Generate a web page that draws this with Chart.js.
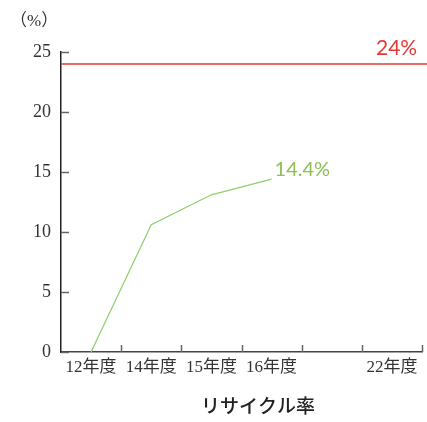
<!doctype html>
<html lang="ja">
<head>
<meta charset="UTF-8" />
<title>リサイクル率</title>
<script src="https://cdn.jsdelivr.net/npm/chart.js"></script>
<style>
    html, body { margin: 0; padding: 0; background: #fff; }
    #wrap { position: relative; width: 427px; height: 422px; }
</style>
</head>
<body>
<div id="wrap"><canvas id="myChart"></canvas></div>
<script>
// 年度ごとのリサイクル率 (%)
const years = ['12年度', '14年度', '15年度', '16年度', '', '22年度'];
const rates = [0, 10.6, 13.1, 14.4, null, null];
const goal = 24;            // 22年度の目標値
const yTicks = [0, 5, 10, 15, 20, 25];

const serif = '"Liberation Serif", "DejaVu Serif", "Noto Sans CJK JP", serif';
const thin = 'Lato, "DejaVu Sans", sans-serif';

// 目標線・数値ラベル・内向きの目盛り・軸タイトル
const overlay = {
    id: 'overlay',
    afterDraw(chart) {
        const c = chart.ctx;
        const area = chart.chartArea;
        const x = chart.scales.x;
        const y = chart.scales.y;
        c.save();

        // 目標線
        const gy = y.getPixelForValue(goal);
        c.strokeStyle = '#e53935';
        c.lineWidth = 1.4;
        c.beginPath();
        c.moveTo(area.left, gy);
        c.lineTo(chart.width, gy);
        c.stroke();

        c.font = '400 21px ' + thin;
        c.fillStyle = '#e53935';
        c.textAlign = 'left';
        c.textBaseline = 'alphabetic';
        c.fillText(goal + '%', 376, gy - 9);

        // 最新値ラベル
        const last = 3;
        c.font = '400 20px ' + thin;
        c.fillStyle = '#8cc152';
        c.fillText(rates[last] + '%', x.getPixelForValue(last) + 3, y.getPixelForValue(rates[last]) - 3);

        // y軸の目盛り (内側)
        c.strokeStyle = '#666';
        c.lineWidth = 1.5;
        yTicks.forEach(v => {
            const py = Math.round(y.getPixelForValue(v)) + 0.5;
            c.beginPath();
            c.moveTo(area.left, py);
            c.lineTo(area.left + 8, py);
            c.stroke();
        });

        // x軸の目盛り (区切り位置・内側)
        const half = (x.getPixelForValue(1) - x.getPixelForValue(0)) / 2;
        for (let i = 0; i < years.length; i++) {
            const px = Math.round(x.getPixelForValue(i) + half) + 0.5;
            c.beginPath();
            c.moveTo(px, area.bottom);
            c.lineTo(px, area.bottom - 7);
            c.stroke();
        }

        // 単位
        c.font = '17px ' + serif;
        c.fillStyle = '#333';
        c.textAlign = 'left';
        c.textBaseline = 'middle';
        c.fillText('（%）', 10, 22);

        // 軸タイトル
        c.font = '500 19px "Noto Sans CJK JP", sans-serif';
        c.fillStyle = '#222';
        c.textAlign = 'center';
        c.fillText('リサイクル率', 258, 406);
        c.restore();
    }
};

new Chart(document.getElementById('myChart'), {
    type: 'line',
    data: {
        labels: years,
        datasets: [{
            data: rates,
            borderColor: '#8fcf6a',
            borderWidth: 1.2,
            pointRadius: 0,
            tension: 0,
            fill: false
        }]
    },
    options: {
        responsive: true,
        maintainAspectRatio: false,
        animation: false,
        layout: { padding: { top: 52, right: 5, left: 0, bottom: 0 } },
        plugins: {
            legend: { display: false },
            tooltip: { enabled: false }
        },
        scales: {
            x: {
                offset: true,
                grid: { drawOnChartArea: false, drawTicks: false, offset: true },
                border: { color: '#444', width: 1.5 },
                ticks: {
                    padding: 5,
                    color: '#333',
                    maxRotation: 0,
                    autoSkip: false,
                    font: { family: serif, size: 17 }
                },
                afterFit(scale) { scale.height = 70; }
            },
            y: {
                min: 0,
                max: 25,
                grid: { drawOnChartArea: false, drawTicks: false },
                border: { color: '#222', width: 1.5 },
                ticks: {
                    stepSize: 5,
                    padding: 10,
                    color: '#333',
                    font: { family: serif, size: 18 }
                },
                afterFit(scale) { scale.width = 61; }
            }
        }
    },
    plugins: [overlay]
});
</script>
</body>
</html>
